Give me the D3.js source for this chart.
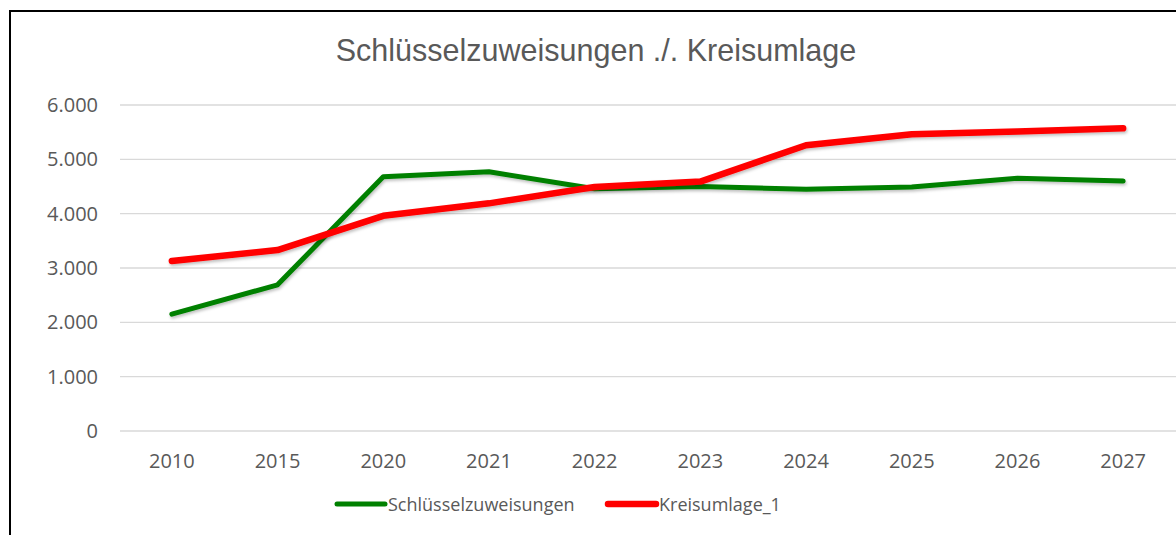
<!DOCTYPE html>
<html>
<head>
<meta charset="utf-8">
<script src="https://cdn.jsdelivr.net/npm/d3@7"></script>
<style>
  body { margin: 0; background: #fff; }
  svg { display: block; }
</style>
</head>
<body>
<div id="chart"></div>
<script>
const years = ["2010", "2015", "2020", "2021", "2022", "2023", "2024", "2025", "2026", "2027"]
const schluessel = [2150, 2690, 4680, 4770, 4460, 4500, 4450, 4490, 4650, 4600]
const kreisumlage = [3130, 3330, 3960, 4190, 4490, 4590, 5260, 5460, 5510, 5570]
const yTicks = [0, 1000, 2000, 3000, 4000, 5000, 6000]

const series = [
  { name: "Schlüsselzuweisungen", values: schluessel, color: "#008000", width: 5 },
  { name: "Kreisumlage_1", values: kreisumlage, color: "#ff0000", width: 6.5 }
]

const width = 1176
const height = 535
const labelFont = "'Open Sans', 'Noto Sans', sans-serif"

const svg = d3.select("#chart").append("svg")
  .attr("width", width)
  .attr("height", height)

const defs = svg.append("defs")
const shadow = defs.append("filter").attr("id", "shadow")
  .attr("x", "-5%").attr("y", "-20%").attr("width", "110%").attr("height", "140%")
shadow.append("feDropShadow")
  .attr("dx", 1).attr("dy", 2).attr("stdDeviation", 1.5)
  .attr("flood-color", "#000").attr("flood-opacity", 0.25)

// chart border (cut off on the right and bottom)
svg.append("rect")
  .attr("x", 10).attr("y", 11)
  .attr("width", 1200).attr("height", 600)
  .attr("fill", "none")
  .attr("stroke", "#000")
  .attr("stroke-width", 2)

const xScale = d3.scaleBand()
  .domain(years)
  .range([119, 1176])

const yScale = d3.scaleLinear()
  .domain([0, 6000])
  .range([431, 105])

const fmt = d3.format(",d")
const deFormat = v => fmt(v).replace(/,/g, ".")

// gridlines
svg.append("g")
  .selectAll("line")
  .data(yTicks).enter().append("line")
    .attr("x1", 120)
    .attr("x2", 1176)
    .attr("y1", d => yScale(d))
    .attr("y2", d => yScale(d))
    .attr("stroke", "#d9d9d9")
    .attr("stroke-width", 1.3)

// y axis labels
const yAxis = d3.axisLeft(yScale).tickValues(yTicks).tickFormat(deFormat).tickSize(0).tickPadding(0)
svg.append("g")
  .attr("transform", "translate(98,0)")
  .call(yAxis)
  .call(g => g.select(".domain").remove())
  .call(g => g.selectAll("text")
    .attr("fill", "#595959")
    .attr("font-family", labelFont)
    .attr("font-size", 20))

// x axis labels
const xAxis = d3.axisBottom(xScale).tickSize(0).tickPadding(0)
svg.append("g")
  .attr("transform", "translate(0,454)")
  .call(xAxis)
  .call(g => g.select(".domain").remove())
  .call(g => g.selectAll("text")
    .attr("fill", "#595959")
    .attr("font-family", labelFont)
    .attr("font-size", 20))

// lines
const line = d3.line()
  .x((d, i) => xScale(years[i]) + xScale.bandwidth() / 2)
  .y(d => yScale(d))

svg.append("g").attr("class", "lines")
  .selectAll("path")
  .data(series).enter().append("path")
    .attr("d", d => line(d.values))
    .attr("fill", "none")
    .attr("stroke", d => d.color)
    .attr("stroke-width", d => d.width)
    .attr("stroke-linecap", "round")
    .attr("stroke-linejoin", "round")
    .attr("filter", "url(#shadow)")

// title
svg.append("text")
  .text("Schlüsselzuweisungen ./. Kreisumlage")
  .attr("x", 596)
  .attr("y", 61)
  .attr("text-anchor", "middle")
  .attr("fill", "#595959")
  .attr("font-family", "'Liberation Sans', Arial, sans-serif")
  .attr("font-size", 30.5)

// legend
const legendPos = [337, 608]
const legend = svg.append("g").attr("class", "legend")
const items = legend.selectAll("g")
  .data(series).enter().append("g")
    .attr("transform", (d, i) => "translate(" + legendPos[i] + ",504)")

items.append("line")
  .attr("x1", 0).attr("x2", 48)
  .attr("y1", 0).attr("y2", 0)
  .attr("stroke", d => d.color)
  .attr("stroke-width", d => d.width)
  .attr("stroke-linecap", "round")

items.append("text")
  .text(d => d.name)
  .attr("x", 51)
  .attr("y", 7)
  .attr("fill", "#595959")
  .attr("font-family", labelFont)
  .attr("font-size", 18)
</script>
</body>
</html>
